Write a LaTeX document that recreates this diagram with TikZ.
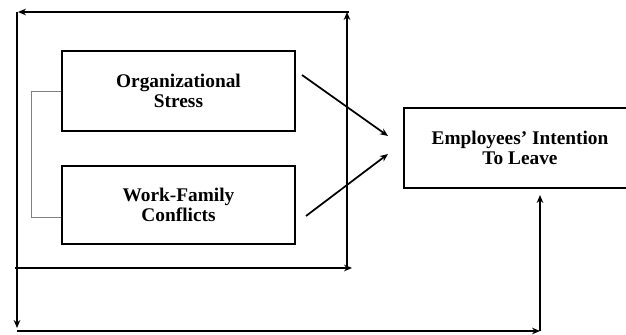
\documentclass[tikz,border=0pt]{standalone}
\usepackage{fontspec}
\setmainfont{Liberation Serif}
\usetikzlibrary{arrows.meta}
\begin{document}
\begin{tikzpicture}[x=0.75pt, y=-0.75pt, line width=1.3pt,
    >={Stealth[length=6pt, width=5pt]},
    box/.style={draw, inner sep=0pt, align=center,
      font=\bfseries\fontsize{14.5}{15.5}\selectfont}]
    \useasboundingbox (0,0) rectangle (626,335);
    % the three boxes
    \node[box, minimum width=174.75pt, minimum height=60pt] (org) at (178.5,91) {Organizational\\Stress};
    \node[box, minimum width=174.75pt, minimum height=58.5pt] (wfc) at (178.5,205) {Work-Family\\Conflicts};
    \node[box, minimum width=174pt, minimum height=60pt] (eit) at (520,148) {Employees' Intention\\To Leave};
    % thin link between the two left boxes
    \draw[gray, line width=0.7pt] (org.west) -- (31,91) |- ([yshift=-9pt]wfc.west);
    % arrows into the right box
    \coordinate (s1) at (302,75);
    \coordinate (t1) at (388,136);
    \coordinate (s2) at (306,216);
    \coordinate (t2) at (388,154);
    \draw[->] (s1) -- (t1);
    \draw[->] (s2) -- (t2);
    % outer frame of arrows
    \coordinate (inL) at (15,268);
    \coordinate (inR) at (352,268);
    \coordinate (inC) at (347,268);
    \coordinate (topR) at (347,12);
    \coordinate (topS) at (349,12);
    \coordinate (topL) at (18,12);
    \coordinate (leftT) at (17,12);
    \coordinate (leftB) at (17,328);
    \coordinate (botL) at (17,331);
    \coordinate (botR) at (540,331);
    \coordinate (up) at (540,195);
    \draw[->] (inL) -- (inR);
    \draw[->] (inC) -- (topR);
    \draw[->] (topS) -- (topL);
    \draw[->] (leftT) -- (leftB);
    \draw[->] (botL) -- (botR);
    \draw[->] (botR) -- (up);
\end{tikzpicture}
\end{document}
